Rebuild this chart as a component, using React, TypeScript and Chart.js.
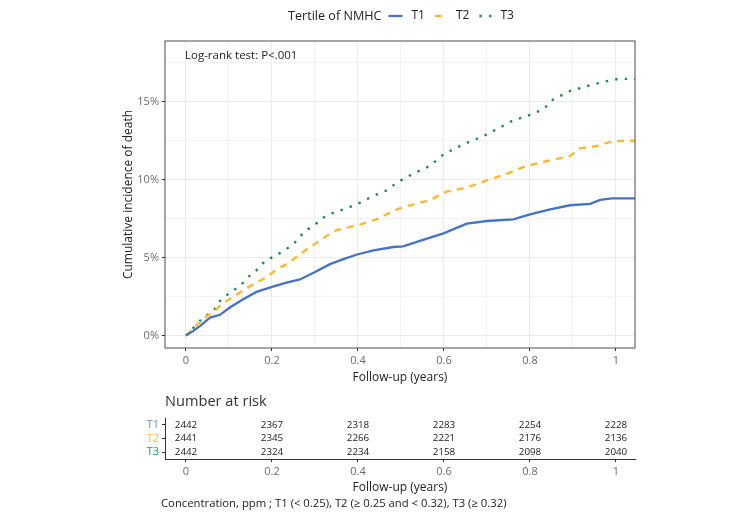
import React, { useEffect, useRef } from 'react';
import { Chart, registerables } from 'chart.js';

Chart.register(...registerables);

const FONT = "'Open Sans', 'Noto Sans', sans-serif";

// ---- data ----
const seriesNames = ['T1', 'T2', 'T3'];
const legendTitle = 'Tertile of NMHC';
const seriesColors = ['#4472C4', '#FBB92E', '#1E8A4C'];
const tableLabelColors = ['#5B8FD9', '#FBBE2E', '#1F9B6E'];

const t1Time = [0, 0.017, 0.033, 0.056, 0.079, 0.102, 0.133, 0.164, 0.2, 0.234, 0.265, 0.298, 0.335, 0.366, 0.398, 0.436, 0.482, 0.505, 0.544, 0.599, 0.653, 0.7, 0.761, 0.8, 0.847, 0.893, 0.94, 0.963, 0.99, 1.045];
const t1Inc = [0, 0.3, 0.62, 1.15, 1.33, 1.8, 2.33, 2.8, 3.12, 3.4, 3.6, 4.04, 4.58, 4.9, 5.2, 5.47, 5.68, 5.72, 6.07, 6.56, 7.18, 7.35, 7.46, 7.78, 8.1, 8.36, 8.45, 8.7, 8.8, 8.8];

const t2Time = [0, 0.025, 0.044, 0.067, 0.087, 0.114, 0.137, 0.164, 0.188, 0.211, 0.234, 0.257, 0.281, 0.304, 0.327, 0.35, 0.381, 0.412, 0.443, 0.474, 0.498, 0.529, 0.567, 0.606, 0.653, 0.7, 0.746, 0.792, 0.847, 0.893, 0.916, 0.955, 0.994, 1.045];
const t2Inc = [0, 0.68, 1.15, 1.58, 2.1, 2.54, 2.97, 3.4, 3.76, 4.25, 4.58, 5.04, 5.54, 5.96, 6.39, 6.76, 6.97, 7.18, 7.45, 7.88, 8.18, 8.42, 8.68, 9.23, 9.49, 9.96, 10.38, 10.88, 11.24, 11.52, 12.01, 12.16, 12.48, 12.5];

const t3Time = [0, 0.04, 0.064, 0.079, 0.102, 0.126, 0.145, 0.164, 0.184, 0.207, 0.23, 0.253, 0.277, 0.296, 0.319, 0.343, 0.374, 0.405, 0.436, 0.467, 0.49, 0.529, 0.567, 0.599, 0.645, 0.692, 0.722, 0.761, 0.792, 0.831, 0.854, 0.893, 0.932, 0.971, 1.005, 1.045];
const t3Inc = [0, 1.15, 1.58, 2.22, 2.76, 3.19, 3.76, 4.19, 4.79, 5.11, 5.47, 5.96, 6.71, 7.03, 7.56, 7.88, 8.17, 8.53, 8.96, 9.32, 9.81, 10.4, 10.88, 11.63, 12.27, 12.8, 13.23, 13.81, 14.08, 14.51, 15.15, 15.69, 16.0, 16.28, 16.47, 16.47];

const xTicksMain = [0, 0.1, 0.2, 0.3, 0.4, 0.5, 0.6, 0.7, 0.8, 0.9, 1];
const yTicksMain = [0, 2.5, 5, 7.5, 10, 12.5, 15, 17.5];

const riskTimes = [0, 0.2, 0.4, 0.6, 0.8, 1];
const riskT1 = [2442, 2367, 2318, 2283, 2254, 2228];
const riskT2 = [2441, 2345, 2266, 2221, 2176, 2136];
const riskT3 = [2442, 2324, 2234, 2158, 2098, 2040];

const yTitle = 'Cumulative incidence of death';
const xTitle = 'Follow-up (years)';
const logRankText = 'Log-rank test: P<.001';
const tableTitle = 'Number at risk';
const captionText = 'Concentration, ppm ; T1 (< 0.25), T2 (\u2265 0.25 and < 0.32), T3 (\u2265 0.32)';

const X_MIN = -0.0488;
const X_MAX = 1.0442;
const Y_MIN = -0.8;
const Y_MAX = 18.9;

const TICK_GREY = '#6b6b6b';
const DARK = '#222222';

const isMajorX = (v: number) => Math.abs(Math.round(v * 10) % 2) === 0;
const isMajorY = (v: number) => Math.abs(v % 5) < 1e-6;
const fmtX = (v: number) => String(Math.round(v * 10) / 10);

const mainDecor = {
  id: 'mainDecor',
  afterDraw(chart: any) {
    const { ctx, chartArea } = chart;
    const { left, top, right, bottom } = chartArea;
    ctx.save();
    // panel border
    ctx.strokeStyle = '#4d4d4d';
    ctx.lineWidth = 1;
    ctx.setLineDash([]);
    ctx.strokeRect(left, top, right - left, bottom - top);

    // log-rank annotation
    ctx.fillStyle = DARK;
    ctx.font = `11.5px ${FONT}`;
    ctx.textAlign = 'left';
    ctx.textBaseline = 'middle';
    ctx.fillText(logRankText, left + 20, top + 15);

    // legend
    const ly = 16;
    let x = 288;
    ctx.font = `12.6px ${FONT}`;
    ctx.fillStyle = DARK;
    ctx.fillText(legendTitle, x, ly);
    x += ctx.measureText(legendTitle).width + 7;
    chart.data.datasets.forEach((ds: any) => {
      ctx.save();
      ctx.strokeStyle = ds.borderColor;
      ctx.lineWidth = ds.borderWidth;
      ctx.setLineDash(ds.borderDash || []);
      ctx.lineDashOffset = ds.borderDash && ds.borderDash.length ? -2 : 0;
      ctx.beginPath();
      ctx.moveTo(x, ly);
      ctx.lineTo(x + 14, ly);
      ctx.stroke();
      ctx.restore();
      x += 14 + 9;
      ctx.fillStyle = DARK;
      ctx.font = `12px ${FONT}`;
      ctx.fillText(ds.label, x, ly);
      x += ctx.measureText(ds.label).width + 8;
    });
    ctx.restore();
  },
};

const riskCounts = [riskT1, riskT2, riskT3];

const tableDecor = {
  id: 'tableDecor',
  afterDatasetsDraw(chart: any) {
    const { ctx } = chart;
    ctx.save();
    ctx.fillStyle = '#1a1a1a';
    ctx.font = `9.8px ${FONT}`;
    ctx.textAlign = 'center';
    ctx.textBaseline = 'middle';
    chart.data.datasets.forEach((ds: any, i: number) => {
      const meta = chart.getDatasetMeta(i);
      meta.data.forEach((el: any, j: number) => {
        ctx.fillText(String(riskCounts[i][j]), el.x, el.y);
      });
    });
    ctx.textAlign = 'left';
    ctx.fillStyle = '#333333';
    ctx.font = `14.6px ${FONT}`;
    ctx.fillText(tableTitle, chart.chartArea.left, 12);
    ctx.fillStyle = DARK;
    ctx.font = `11.3px ${FONT}`;
    ctx.fillText(captionText, chart.chartArea.left - 4, 114);
    ctx.restore();
  },
};

export default function App() {
  const mainRef = useRef<HTMLCanvasElement | null>(null);
  const tableRef = useRef<HTMLCanvasElement | null>(null);

  useEffect(() => {
    if (!mainRef.current || !tableRef.current) return;
    Chart.defaults.font.family = FONT;

    const mk = (t: number[], v: number[]) => t.map((x, i) => ({ x, y: v[i] }));

    const main = new Chart(mainRef.current, {
      type: 'line',
      data: {
        datasets: [
          { label: seriesNames[0], data: mk(t1Time, t1Inc), borderColor: seriesColors[0], borderWidth: 2.3, borderDash: [], pointRadius: 0, tension: 0, fill: false },
          { label: seriesNames[1], data: mk(t2Time, t2Inc), borderColor: seriesColors[1], borderWidth: 2.4, borderDash: [7, 6], pointRadius: 0, tension: 0, fill: false },
          { label: seriesNames[2], data: mk(t3Time, t3Inc), borderColor: seriesColors[2], borderWidth: 2.4, borderDash: [2.4, 7.2], pointRadius: 0, tension: 0, fill: false },
        ],
      },
      options: {
        responsive: false,
        animation: false,
        events: [],
        layout: { padding: { left: 0, right: 121, top: 41, bottom: 0 } },
        plugins: { legend: { display: false }, tooltip: { enabled: false } },
        scales: {
          x: {
            type: 'linear',
            min: X_MIN,
            max: X_MAX,
            afterBuildTicks: (s: any) => { s.ticks = xTicksMain.map((v) => ({ value: v })); },
            afterFit: (s: any) => { s.height = 47; },
            border: { display: false },
            grid: {
              color: (c: any) => (c.tick && isMajorX(c.tick.value) ? '#EBEBEB' : '#F3F3F3'),
              lineWidth: 1,
              tickLength: 3,
              tickColor: (c: any) => (c.tick && isMajorX(c.tick.value) ? '#333333' : 'rgba(0,0,0,0)'),
            },
            ticks: {
              color: TICK_GREY,
              font: { size: 11, family: FONT },
              padding: 3,
              maxRotation: 0,
              autoSkip: false,
              callback: (v: any) => (isMajorX(Number(v)) ? fmtX(Number(v)) : ''),
            },
            title: { display: true, text: xTitle, color: DARK, font: { size: 12, family: FONT }, padding: { top: 0, bottom: 10 } },
          },
          y: {
            type: 'linear',
            min: Y_MIN,
            max: Y_MAX,
            afterBuildTicks: (s: any) => { s.ticks = yTicksMain.map((v) => ({ value: v })); },
            afterFit: (s: any) => { s.width = 165; },
            border: { display: false },
            grid: {
              color: (c: any) => (c.tick && isMajorY(c.tick.value) ? '#EBEBEB' : '#F3F3F3'),
              lineWidth: 1,
              tickLength: 3,
              tickColor: (c: any) => (c.tick && isMajorY(c.tick.value) ? '#333333' : 'rgba(0,0,0,0)'),
            },
            ticks: {
              color: TICK_GREY,
              font: { size: 11, family: FONT },
              padding: 3,
              autoSkip: false,
              callback: (v: any) => (isMajorY(Number(v)) ? `${Number(v)}%` : ''),
            },
            title: { display: true, text: yTitle, color: DARK, font: { size: 12, family: FONT }, padding: { top: 121, bottom: 0 } },
          },
        },
      },
      plugins: [mainDecor],
    } as any);

    const table = new Chart(tableRef.current, {
      type: 'scatter',
      data: {
        datasets: seriesNames.map((name) => ({
          label: name,
          data: riskTimes.map((t) => ({ x: t, y: name })),
          pointRadius: 0,
          showLine: false,
        })),
      },
      options: {
        responsive: false,
        animation: false,
        events: [],
        layout: { padding: { left: 0, right: 121, top: 28, bottom: 0 } },
        plugins: { legend: { display: false }, tooltip: { enabled: false } },
        scales: {
          x: {
            type: 'linear',
            min: X_MIN,
            max: X_MAX,
            afterBuildTicks: (s: any) => { s.ticks = riskTimes.map((v) => ({ value: v })); },
            afterFit: (s: any) => { s.height = 62; },
            border: { display: true, color: '#333333', width: 1 },
            grid: { drawOnChartArea: false, drawTicks: true, tickLength: 3, tickColor: '#333333' },
            ticks: {
              color: TICK_GREY,
              font: { size: 11, family: FONT },
              padding: 3,
              maxRotation: 0,
              autoSkip: false,
              callback: (v: any) => fmtX(Number(v)),
            },
            title: { display: true, text: xTitle, color: DARK, font: { size: 12, family: FONT }, padding: { top: 0, bottom: 26 } },
          },
          y: {
            type: 'category',
            labels: seriesNames,
            offset: true,
            afterFit: (s: any) => { s.width = 165; },
            border: { display: true, color: '#333333', width: 1 },
            grid: { drawOnChartArea: false, drawTicks: true, tickLength: 3, tickColor: '#333333', offset: false },
            ticks: {
              color: (c: any) => tableLabelColors[c.index] || DARK,
              font: { size: 11, family: FONT },
              padding: 3,
              autoSkip: false,
            },
          },
        },
      },
      plugins: [tableDecor],
    } as any);

    return () => {
      main.destroy();
      table.destroy();
    };
  }, []);

  return (
    <div style={{ position: 'absolute', left: 0, top: 0, width: 756, height: 521, background: '#ffffff' }}>
      <canvas ref={mainRef} width={756} height={395} style={{ position: 'absolute', left: 0, top: 0, width: 756, height: 395 }} />
      <canvas ref={tableRef} width={756} height={131} style={{ position: 'absolute', left: 0, top: 390, width: 756, height: 131 }} />
    </div>
  );
}
